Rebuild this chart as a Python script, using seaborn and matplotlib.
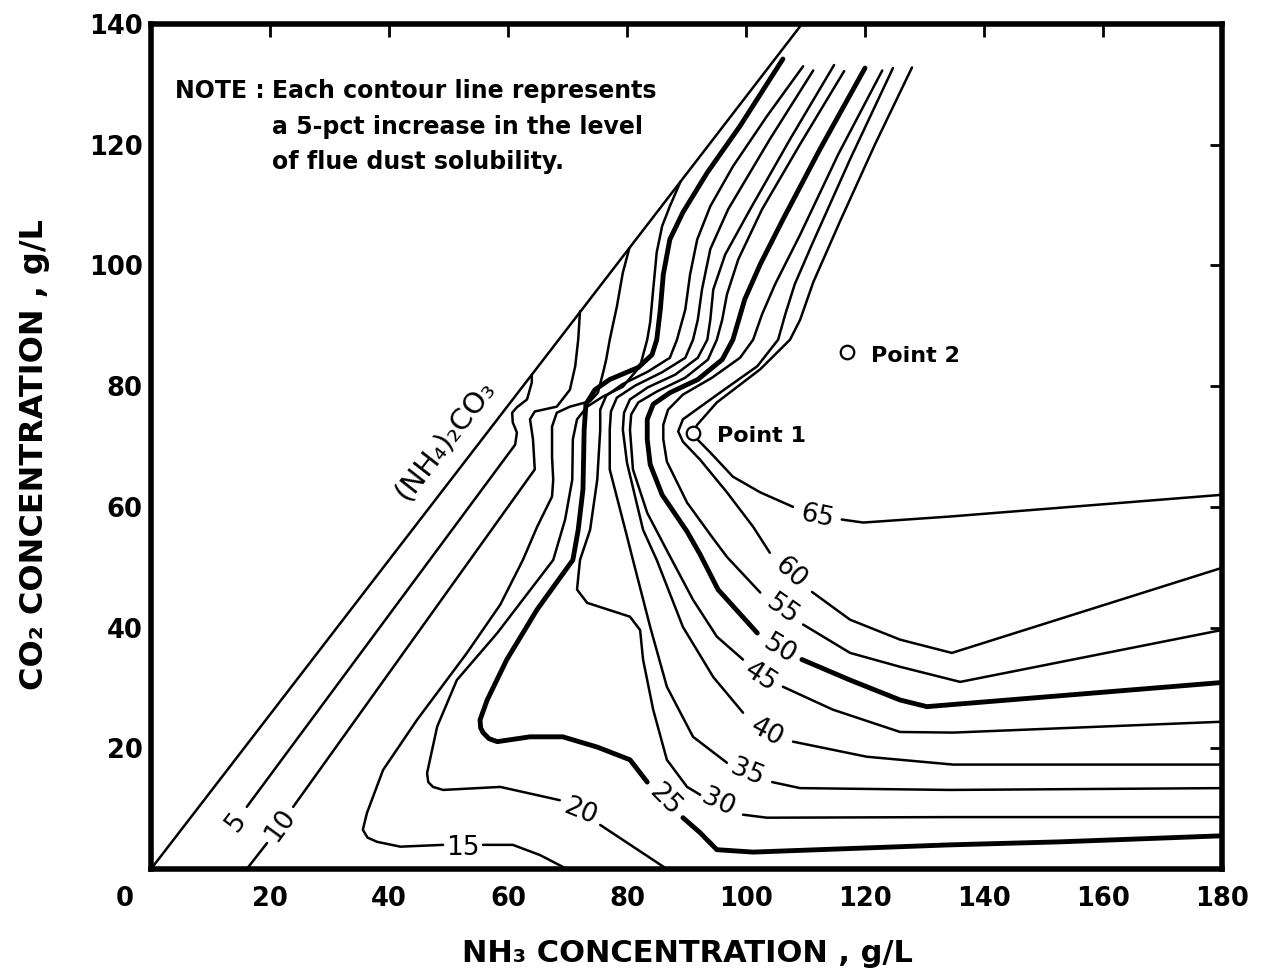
import matplotlib
matplotlib.use('Agg')
import matplotlib.pyplot as plt
import seaborn as sns
import pandas as pd

# (NH4)2CO3 saturation line
boundary_x = [0, 109.4]
boundary_y = [0, 140]

# contour lines (NH3 g/L, CO2 g/L); "_b" = part after the label gap
c05_x = [64.0, 64.0, 63.2, 61.5, 60.7, 60.8, 61.5, 61.2, 16.1]
c05_y = [81.9, 80.6, 77.8, 76.5, 75.6, 74.0, 72.3, 70.3, 10.3]

c10_x = [72.1, 71.8, 71.3, 70.4, 68.2, 64.5, 63.7, 64.2, 64.5, 23.9]
c10_y = [92.4, 87.7, 83.3, 79.4, 76.6, 75.8, 74.5, 71.2, 66.2, 10.3]
c10_b_x = [19.5, 16.1]
c10_b_y = [4.3, 0]

c15_x = [80.4, 79.3, 78.3, 77.1, 76.5, 76.0, 75.1, 73.8, 70.4, 68.2, 67.4, 67.4, 67.6, 67.4,
         64.9, 62.5, 58.7, 53.1, 44.7, 39.0, 36.3, 35.6, 36.4, 38.0, 41.9, 49.1]
c15_y = [102.9, 98.8, 93.2, 87.7, 84.4, 82.3, 78.9, 77.5, 76.6, 75.6, 73.3, 68.3, 64.5, 61.7,
         56.7, 51.2, 43.8, 35.8, 24.7, 16.4, 9.3, 6.5, 5.2, 4.5, 3.7, 4.0]
c15_b_x = [55.8, 60.8, 65.4, 69.9]
c15_b_y = [4.0, 4.0, 2.3, 0]

c20_x = [89.0, 87.2, 85.9, 85.0, 84.4, 83.9, 83.4, 82.2, 79.3, 76.0, 73.3, 71.6, 70.9, 70.8,
         69.6, 67.6, 58.2, 51.4, 48.1, 46.4, 46.6, 47.4, 49.1, 58.7, 68.7]
c20_y = [113.9, 109.8, 106.5, 102.2, 96.0, 90.6, 87.7, 83.3, 79.9, 78.3, 76.6, 74.5, 71.2, 64.5,
         57.9, 51.2, 39.1, 31.3, 23.6, 15.9, 14.4, 13.6, 13.1, 13.6, 11.4]
c20_b_x = [75.5, 86.7]
c20_b_y = [7.3, 0]

c25_x = [106.2, 99.0, 93.5, 89.4, 87.2, 86.1, 85.6, 85.0, 84.2, 81.9, 77.1, 74.6, 73.1, 72.8,
         72.6, 71.8, 70.9, 64.9, 59.8, 56.5, 55.3, 55.4, 55.8, 56.8, 58.2, 63.7, 69.2, 75.0,
         80.5, 83.4]
c25_y = [134.2, 123.1, 115.4, 108.8, 104.3, 98.5, 92.7, 87.7, 85.2, 83.1, 81.1, 79.4, 77.0, 72.8,
         62.9, 56.2, 51.2, 43.0, 34.7, 28.0, 24.7, 23.4, 22.6, 21.6, 21.1, 21.9, 21.9, 20.2,
         18.1, 14.4]
c25_b_x = [89.4, 92.3, 95.1, 101.2, 134.3, 152.8, 180]
c25_b_y = [8.5, 6.0, 3.2, 2.8, 4.0, 4.5, 5.5]

c30_x = [109.6, 103.5, 97.8, 94.0, 91.8, 90.6, 89.8, 88.4, 87.2, 83.5, 79.2, 76.5, 75.5, 75.5,
         75.0, 73.8, 72.1, 71.6, 73.3, 80.5, 82.2, 82.7, 84.4, 86.7, 90.1, 92.3]
c30_y = [133.0, 124.7, 116.4, 109.8, 104.3, 98.5, 92.7, 87.7, 84.7, 82.4, 80.3, 78.4, 76.1, 72.8,
         64.5, 56.2, 51.2, 46.3, 44.1, 41.8, 39.6, 34.7, 26.4, 18.1, 13.6, 12.3]
c30_b_x = [99.5, 103.5, 134.3, 180]
c30_b_y = [9.0, 8.5, 8.6, 8.6]

c35_x = [111.3, 104.0, 97.0, 94.0, 92.6, 91.9, 91.1, 89.8, 85.9, 81.4, 78.3, 77.3, 77.1, 77.1,
         80.0, 81.0, 83.9, 86.7, 91.1, 96.8]
c35_y = [132.3, 120.9, 109.3, 102.7, 96.0, 91.0, 87.7, 84.7, 82.3, 80.1, 78.1, 75.8, 72.8, 66.2,
         55.1, 51.2, 40.1, 30.2, 21.9, 17.6]
c35_b_x = [104.4, 109.1, 134.3, 180]
c35_b_y = [14.4, 13.4, 13.1, 13.4]

c40_x = [114.8, 107.4, 100.7, 96.5, 94.5, 94.0, 93.5, 91.9, 88.1, 83.5, 80.5, 79.5, 79.3, 80.0,
         82.7, 85.0, 89.4, 94.5, 99.5]
c40_y = [133.2, 120.9, 109.3, 101.8, 96.0, 91.0, 87.7, 84.7, 81.9, 79.8, 77.8, 75.6, 72.8, 67.3,
         56.2, 51.2, 40.1, 31.8, 25.9]
c40_b_x = [107.9, 120.3, 134.8, 180]
c40_b_y = [21.1, 18.6, 17.3, 17.3]

c45_x = [116.5, 109.1, 102.7, 98.7, 96.8, 96.0, 95.1, 93.6, 89.8, 85.0, 81.9, 80.7, 80.5, 81.0,
         83.4, 86.9, 91.1, 95.1, 99.5]
c45_y = [132.2, 120.1, 109.3, 101.0, 95.2, 91.0, 87.7, 84.4, 81.4, 79.1, 77.3, 75.3, 72.8, 66.2,
         59.0, 52.4, 44.6, 38.5, 34.7]
c45_b_x = [106.2, 114.6, 125.9, 134.8, 180]
c45_b_y = [30.2, 26.4, 22.7, 22.6, 24.4]

c50_x = [120.0, 112.4, 106.2, 102.4, 99.8, 97.8, 96.0, 91.9, 87.2, 84.4, 83.4, 83.4, 83.9, 85.9,
         90.1, 92.3, 95.3, 101.9]
c50_y = [132.7, 119.2, 107.6, 100.2, 94.4, 87.7, 84.4, 81.1, 78.9, 77.0, 74.5, 71.2, 67.0, 62.0,
         55.9, 52.1, 46.3, 39.1]
c50_b_x = [109.4, 117.5, 125.9, 130.4, 180]
c50_b_y = [34.7, 31.3, 28.0, 26.9, 30.9]

c55_x = [122.9, 115.5, 109.1, 104.9, 102.7, 101.2, 99.0, 94.3, 89.4, 86.9, 86.1, 86.1, 86.7,
         90.1, 94.0, 96.8, 102.4]
c55_y = [132.3, 118.4, 105.1, 96.9, 91.9, 87.7, 84.7, 81.4, 78.6, 76.1, 73.6, 71.2, 67.5,
         60.7, 55.4, 51.7, 45.8]
c55_b_x = [109.6, 117.5, 125.9, 136.0, 180]
c55_b_y = [40.5, 35.8, 33.5, 31.0, 39.6]

c60_x = [124.7, 117.5, 111.1, 108.2, 106.6, 105.4, 101.9, 95.6, 89.4, 88.6, 89.4, 92.3, 96.8,
         101.2, 104.0]
c60_y = [132.7, 117.6, 103.5, 96.9, 91.9, 87.7, 83.3, 78.9, 74.5, 72.5, 70.8, 67.8, 62.4,
         56.7, 52.4]
c60_b_x = [111.1, 117.5, 125.9, 134.6, 180]
c60_b_y = [45.9, 41.3, 38.0, 35.8, 49.9]

c65_x = [127.9, 121.7, 115.8, 111.3, 109.1, 107.4, 102.4, 95.1, 91.8, 91.1, 91.8, 94.0, 97.8,
         102.4, 107.9]
c65_y = [132.8, 120.1, 107.3, 97.2, 91.0, 87.7, 82.8, 77.3, 73.6, 72.3, 71.2, 69.0, 65.0,
         62.4, 60.0]
c65_b_x = [116.1, 119.7, 134.3, 180]
c65_b_y = [57.9, 57.4, 58.4, 62.0]

# contour labels
label_text = ['5', '10', '15', '20', '25', '30', '35', '40', '45', '50', '55', '60', '65']
label_x = [14.4, 21.7, 52.4, 72.1, 86.4, 95.3, 100.2, 103.5, 102.4, 105.7, 106.2, 107.4, 111.9]
label_y = [7.8, 7.3, 3.5, 9.5, 11.4, 11.0, 15.9, 22.6, 31.8, 36.3, 43.0, 49.1, 58.4]
label_rot = [53, 54, 0, -22, -45, -25, -22, -28, -33, -31, -35, -42, -12]

# sample points
point_names = ['Point 1', 'Point 2']
point_x = [91.1, 117.0]
point_y = [72.3, 85.6]

thin = [('bd', boundary_x, boundary_y),
        ('5', c05_x, c05_y), ('10', c10_x, c10_y), ('10b', c10_b_x, c10_b_y),
        ('15', c15_x, c15_y), ('15b', c15_b_x, c15_b_y),
        ('20', c20_x, c20_y), ('20b', c20_b_x, c20_b_y),
        ('30', c30_x, c30_y), ('30b', c30_b_x, c30_b_y),
        ('35', c35_x, c35_y), ('35b', c35_b_x, c35_b_y),
        ('40', c40_x, c40_y), ('40b', c40_b_x, c40_b_y),
        ('45', c45_x, c45_y), ('45b', c45_b_x, c45_b_y),
        ('55', c55_x, c55_y), ('55b', c55_b_x, c55_b_y),
        ('60', c60_x, c60_y), ('60b', c60_b_x, c60_b_y),
        ('65', c65_x, c65_y), ('65b', c65_b_x, c65_b_y)]
thick = [('25', c25_x, c25_y), ('25b', c25_b_x, c25_b_y),
         ('50', c50_x, c50_y), ('50b', c50_b_x, c50_b_y)]


def to_frame(segs):
    parts = []
    for name, xs, ys in segs:
        parts.append(pd.DataFrame({'x': xs, 'y': ys, 'seg': name}))
    return pd.concat(parts, ignore_index=True)


sns.set_theme(style='white')
plt.rcParams['font.family'] = ['DejaVu Sans']
plt.rcParams['axes.unicode_minus'] = False
plt.rcParams['text.color'] = 'black'
plt.rcParams['axes.labelcolor'] = 'black'
plt.rcParams['xtick.color'] = 'black'
plt.rcParams['ytick.color'] = 'black'

fig = plt.figure(figsize=(12.65, 9.74), dpi=100)
ax = fig.add_axes([151 / 1265, 1 - 869 / 974, 1071 / 1265, 845 / 974])

line_kw = dict(x='x', y='y', units='seg', estimator=None, sort=False, color='black',
               solid_joinstyle='round', solid_capstyle='round', ax=ax)
sns.lineplot(data=to_frame(thin), linewidth=1.8, **line_kw)
sns.lineplot(data=to_frame(thick), linewidth=3.5, **line_kw)
sns.scatterplot(x=point_x, y=point_y, s=95, color='white', edgecolor='black', linewidth=1.6,
                zorder=5, ax=ax)

for t, x, y, r in zip(label_text, label_x, label_y, label_rot):
    ax.text(x, y, t, rotation=r, ha='center', va='center', fontsize=19,
            rotation_mode='anchor', color='black')

for name, x, y in zip(point_names, point_x, point_y):
    ax.text(x + 4.0, y - 0.6, name, ha='left', va='center', fontsize=16, fontweight='bold',
            color='black')

ax.text(49.4, 71.1, '(NH₄)₂CO₃', rotation=52, ha='center', va='center', fontsize=21,
        rotation_mode='anchor', color='black')

note_kw = dict(ha='left', va='center', fontsize=17, fontweight='bold', color='black')
ax.text(4.0, 128.9, 'NOTE :', **note_kw)
ax.text(20.3, 128.9, 'Each contour line represents', **note_kw)
ax.text(20.3, 123.0, 'a 5-pct increase in the level', **note_kw)
ax.text(20.3, 117.2, 'of flue dust solubility.', **note_kw)

ax.set_xlim(0, 180)
ax.set_ylim(0, 140)
ax.set_xticks(range(0, 181, 20))
ax.set_xticklabels([''] + [str(v) for v in range(20, 181, 20)])
ax.set_yticks(range(20, 141, 20))
ax.set_yticklabels([str(v) for v in range(20, 141, 20)])
ax.annotate('0', xy=(0, 0), xycoords=('data', 'axes fraction'), xytext=(-19, -12),
            textcoords='offset points', ha='center', va='top', fontsize=18.5, fontweight='bold',
            color='black')
ax.tick_params(axis='both', direction='in', length=9, width=2, top=True, right=True,
               labelsize=18.5, colors='black')
ax.tick_params(axis='x', pad=12)
ax.tick_params(axis='y', pad=6)
for lab in ax.get_xticklabels() + ax.get_yticklabels():
    lab.set_fontweight('bold')
for sp in ax.spines.values():
    sp.set_linewidth(4)
    sp.set_color('black')
ax.set_xlabel('')
ax.set_ylabel('')

fig.text(687 / 1265, 1 - 953 / 974, 'NH₃ CONCENTRATION , g/L', ha='center', va='center',
         fontsize=22, fontweight='bold', color='black')
fig.text(35 / 1265, 1 - 455 / 974, 'CO₂ CONCENTRATION , g/L', ha='center', va='center',
         rotation=90, fontsize=23, fontweight='bold', color='black')

fig.savefig('out.png', dpi=100, facecolor='white')
